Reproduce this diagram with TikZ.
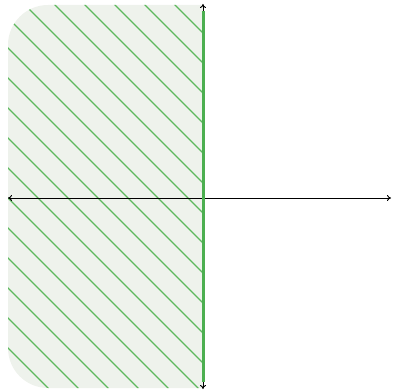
\documentclass[tikz,border=0pt]{standalone}
\usetikzlibrary{arrows.meta}
\definecolor{regionfill}{HTML}{EEF2EC}
\definecolor{hatchgreen}{HTML}{5DB85D}
\definecolor{boundgreen}{HTML}{4CAF50}
\tikzset{
  axisline/.style={black, line width=0.9pt, {To[length=4pt,width=6pt]}-{To[length=4pt,width=6pt]}},
  hatchline/.style={hatchgreen, line width=1.1pt},
  boundary/.style={boundgreen, line width=3pt},
}
\begin{document}
\begin{tikzpicture}[x=1pt,y=-1pt]
\useasboundingbox (0,0) rectangle (393,390);
\coordinate (xl) at (8,198);
\coordinate (xr) at (391,198);
\coordinate (yt) at (203,4);
\coordinate (yb) at (203,389);
\def\regionpath{(203,5) -- (100,5) [rounded corners=40pt] -- (8,5) -- (8,388) -- (100,388) [sharp corners] -- (203,388) -- cycle}
% region
\path[fill=regionfill] \regionpath;
\begin{scope}
\clip \regionpath;
\foreach \c in {200,170,...,-400} {
  \draw[hatchline] (\c-10,-10) -- (\c+400,400);
}
\end{scope}
% axes
\draw[axisline] (xl) -- (xr);
\draw[axisline] (yb) -- (yt);
\draw[boundary] (203,11) -- (203,382);
\end{tikzpicture}
\end{document}
